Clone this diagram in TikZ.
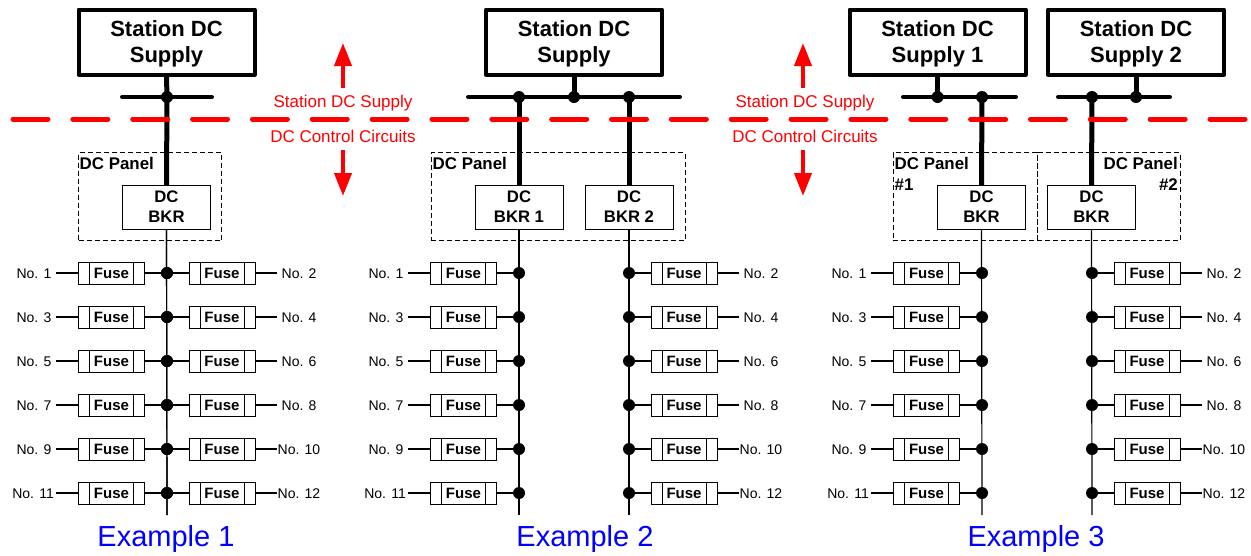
\documentclass[tikz,border=0pt]{standalone}
\usepackage{fontspec}
\setmainfont{Liberation Sans}
\usetikzlibrary{arrows.meta}
\newcommand{\fs}[1]{\fontsize{#1}{#1}\selectfont}
\definecolor{redline}{RGB}{255,0,0}
\definecolor{bluetext}{RGB}{0,0,255}
\tikzset{
  x=1pt,y=-1pt,
  supplybox/.style={draw,line width=4pt,minimum width=176pt,minimum height=65pt,inner sep=0pt,align=center,font=\fs{22}\bfseries,text depth=0pt,line join=round},
  bkrbox/.style={draw,line width=1pt,minimum width=88pt,minimum height=44pt,inner sep=0pt,align=center,font=\fs{16.7}\bfseries,text depth=1.5pt},
  fusebox/.style={draw,line width=1pt,minimum width=66pt,minimum height=22pt,inner sep=0pt,font=\fs{15}\bfseries,
    path picture={\draw[line width=1pt] ([xshift=-22pt]path picture bounding box.north) -- ([xshift=-22pt]path picture bounding box.south)
      ([xshift=22pt]path picture bounding box.north) -- ([xshift=22pt]path picture bounding box.south);}},
  panelbox/.style={draw,dashed,dash pattern=on 5pt off 3pt,line width=0.9pt,inner sep=0pt},
  paneltext/.style={font=\fs{16.9}\bfseries,inner sep=0pt},
  nolabel/.style={font=\fs{14},inner ysep=0pt,text height=10pt,text depth=0pt},
  heavy/.style={line width=5pt},
  busbar/.style={line width=4pt,line cap=round},
  thin/.style={line width=1.2pt},
  busdot/.style={circle,fill=black,inner sep=0pt,minimum size=12pt},
  tapdot/.style={circle,fill=black,inner sep=0pt,minimum size=12pt},
  redtext/.style={font=\fs{17},text=redline,inner sep=0pt},
  redarrow/.style={draw=redline,line width=4pt,-{Triangle[length=23pt,width=17pt,fill=redline]}},
  divider/.style={draw=redline,line width=5pt,line cap=round,dash pattern=on 35pt off 24.85pt},
  extitle/.style={font=\fs{29},text=bluetext,inner sep=0pt},
}
% #1 example id, #2 left bus x, #3 right bus x, #4 left breaker, #5 right breaker
\newcommand{\feeders}[5]{%
  \coordinate (#1busl) at (#2,515);
  \coordinate (#1busr) at (#3,515);
  \draw[thin] (#4.south) -- (#1busl);
  \draw[thin] (#5.south) -- (#1busr);
  \foreach \r/\y/\a/\b/\sa/\sb in {1/273/No. 1/No. 2/4.5/4.5,2/317/No. 3/No. 4/4.5/4.5,3/361/No. 5/No. 6/4.5/4.5,4/405/No. 7/No. 8/4.5/4.5,5/449/No. 9/No. 10/4.5/0.5,6/493/No. 11/No. 12/2/0.5}{
    \node[fusebox] (#1fl\r) at (#2-55.5,\y) {\raisebox{-0.8pt}{Fuse}};
    \node[fusebox] (#1fr\r) at (#3+55,\y) {\raisebox{-0.8pt}{Fuse}};
    \node[nolabel,anchor=east,inner xsep=\sa pt] (#1nl\r) at (#2-111,\y) {\a};
    \node[nolabel,anchor=west,inner xsep=\sb pt] (#1nr\r) at (#3+110,\y) {\b};
    \node[tapdot] (#1jl\r) at (#2,\y) {};
    \node[tapdot] (#1jr\r) at (#3,\y) {};
    \draw[thin] (#1nl\r.east) -- (#1fl\r.west) (#1fl\r.east) -- (#1jl\r.center);
    \draw[thin] (#1jr\r.center) -- (#1fr\r.west) (#1fr\r.east) -- (#1nr\r.west);
  }
}
\begin{document}
\begin{tikzpicture}
\useasboundingbox (0,0) rectangle (1251,555);
% ---------- Example 1
\node[panelbox,minimum width=143pt,minimum height=88pt] (p1) at (150,196.5) {};
\node[paneltext,anchor=north west] (p1t) at (79.5,157) {DC Panel};
\node[supplybox] (s1) at (166.5,42) {Station DC\\[4pt]Supply};
\node[bkrbox] (b1) at (166.5,207.5) {DC\\[3.3pt]BKR};
\coordinate (b1l) at (122,97); \coordinate (b1r) at (212,97);
\draw[busbar] (b1l) -- (b1r);
\node[busdot] (j1) at (167,97) {};
\draw[heavy] (s1.south) -- (j1.center) -- (b1.north);
\feeders{a}{167}{167}{b1}{b1}
% ---------- Example 2
\node[panelbox,minimum width=254pt,minimum height=88pt] (p2) at (558,196.5) {};
\node[paneltext,anchor=north west] (p2t) at (432.5,157) {DC Panel};
\node[supplybox] (s2) at (574,42) {Station DC\\[4pt]Supply};
\node[bkrbox] (b2a) at (519,207.5) {DC\\[3.3pt]BKR 1};
\node[bkrbox] (b2b) at (629,207.5) {DC\\[3.3pt]BKR 2};
\coordinate (b2l) at (468,97); \coordinate (b2r) at (680,97);
\draw[busbar] (b2l) -- (b2r);
\node[busdot] (j2a) at (519,97) {};
\node[busdot] (j2c) at (574,97) {};
\node[busdot] (j2b) at (629,97) {};
\draw[heavy] (s2.south) -- (j2c.center);
\draw[heavy] (j2a.center) -- (b2a.north);
\draw[heavy] (j2b.center) -- (b2b.north);
\feeders{b}{519}{629}{b2a}{b2b}
% ---------- Example 3
\node[panelbox,minimum width=144pt,minimum height=88pt] (p3a) at (965,196.5) {};
\node[panelbox,minimum width=143pt,minimum height=88pt] (p3b) at (1108.5,196.5) {};
\node[paneltext,anchor=north west,align=left] (p3at) at (894.5,157) {DC Panel\\[4.5pt]\#1};
\node[paneltext,anchor=north east,align=right] (p3bt) at (1178,157) {DC Panel\\[4.5pt]\#2};
\node[supplybox] (s3a) at (937.5,42) {Station DC\\[4pt]Supply 1};
\node[supplybox] (s3b) at (1136,42) {Station DC\\[4pt]Supply 2};
\node[bkrbox] (b3a) at (981.5,207.5) {DC\\[3.3pt]BKR};
\node[bkrbox] (b3b) at (1091.5,207.5) {DC\\[3.3pt]BKR};
\coordinate (b3al) at (903,97); \coordinate (b3ar) at (1016,97);
\coordinate (b3bl) at (1058,97); \coordinate (b3br) at (1170,97);
\draw[busbar] (b3al) -- (b3ar);
\draw[busbar] (b3bl) -- (b3br);
\node[busdot] (j3a) at (937.5,97) {};
\node[busdot] (j3b) at (982,97) {};
\node[busdot] (j3c) at (1092,97) {};
\node[busdot] (j3d) at (1136,97) {};
\draw[heavy] (s3a.south) -- (j3a.center);
\draw[heavy] (s3b.south) -- (j3d.center);
\draw[heavy] (j3b.center) -- (b3a.north);
\draw[heavy] (j3c.center) -- (b3b.north);
\feeders{c}{982}{1092}{b3a}{b3b}
% ---------- Boundary
\coordinate (dl) at (13,119); \coordinate (dr) at (1247,119);
\draw[divider] (dl) -- (dr);
\node[redtext] (u1) at (343,103) {Station DC Supply};
\node[redtext] (d1) at (343,136) {DC Control Circuits};
\node[redtext] (u2) at (805,103) {Station DC Supply};
\node[redtext] (d2) at (805,136) {DC Control Circuits};
\coordinate (au1s) at (343,88); \coordinate (au1e) at (343,43);
\coordinate (ad1s) at (343,150); \coordinate (ad1e) at (343,196);
\coordinate (au2s) at (803,88); \coordinate (au2e) at (803,43);
\coordinate (ad2s) at (803,150); \coordinate (ad2e) at (803,196);
\draw[redarrow] (au1s) -- (au1e);
\draw[redarrow] (ad1s) -- (ad1e);
\draw[redarrow] (au2s) -- (au2e);
\draw[redarrow] (ad2s) -- (ad2e);
% ---------- Titles
\node[extitle] (t1) at (166,539) {Example 1};
\node[extitle] (t2) at (585,539) {Example 2};
\node[extitle] (t3) at (1036,539) {Example 3};
\end{tikzpicture}
\end{document}
